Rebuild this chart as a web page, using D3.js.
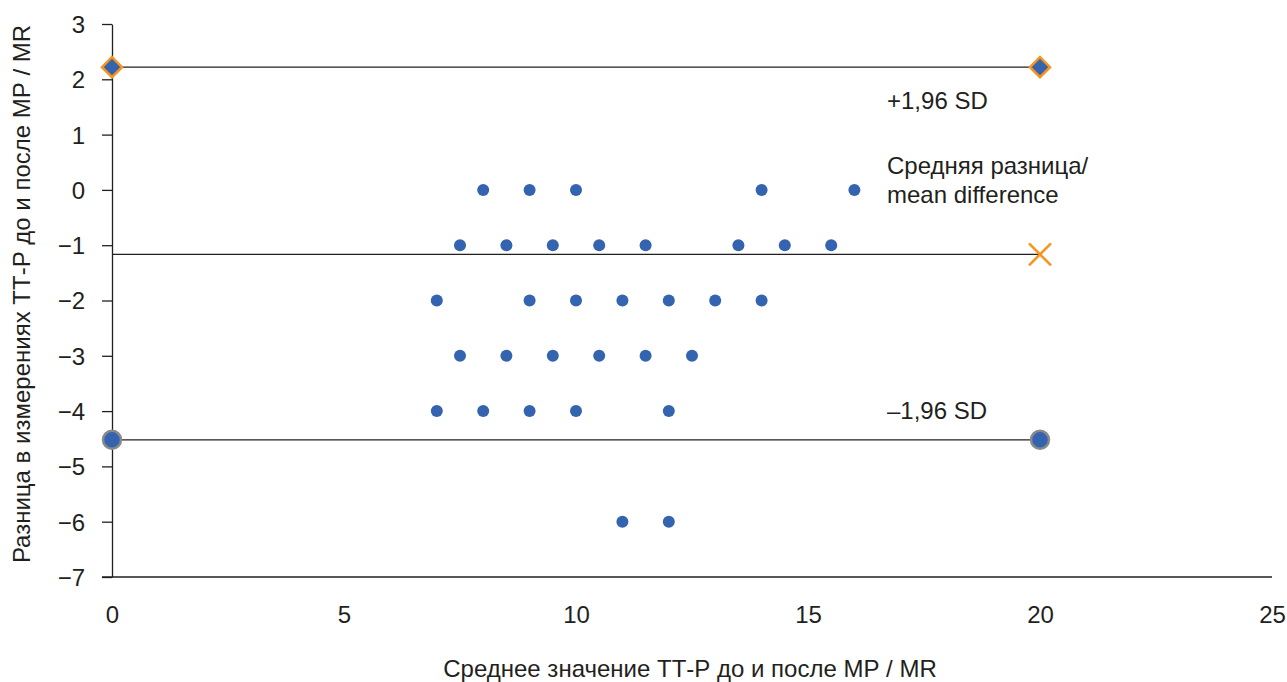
<!DOCTYPE html>
<html>
<head>
<meta charset="utf-8">
<script src="https://cdn.jsdelivr.net/npm/d3@7"></script>
<style>
  body { margin: 0; background: #fff; }
  text { font-family: "Liberation Sans", Arial, sans-serif; fill: #231f20; }
</style>
</head>
<body>
<script>
// data
var pointX = [8, 9, 10, 14, 16,
              7.5, 8.5, 9.5, 10.5, 11.5, 13.5, 14.5, 15.5,
              7, 9, 10, 11, 12, 13, 14,
              7.5, 8.5, 9.5, 10.5, 11.5, 12.5,
              7, 8, 9, 10, 12,
              11, 12];
var pointY = [0, 0, 0, 0, 0,
              -1, -1, -1, -1, -1, -1, -1, -1,
              -2, -2, -2, -2, -2, -2, -2,
              -3, -3, -3, -3, -3, -3,
              -4, -4, -4, -4, -4,
              -6, -6];
var upperSD = 2.22;
var meanDiff = -1.165;
var lowerSD = -4.52;
var lineEnds = [0, 20];
var xTicks = [0, 5, 10, 15, 20, 25];
var yTicks = [3, 2, 1, 0, -1, -2, -3, -4, -5, -6, -7];

var svgWidth = 1287, svgHeight = 682;
var plotLeft = 112, plotTop = 24, plotRight = 1272, plotBottom = 577;
var fs = 24;

var svg = d3.select("body").append("svg")
    .attr("width", svgWidth)
    .attr("height", svgHeight);

var x = d3.scaleLinear().domain([0, 25]).range([plotLeft, plotRight]);
var y = d3.scaleLinear().domain([-7, 3]).range([plotBottom, plotTop]);

var blue = "#3463b0";
var orange = "#f7941d";

// y axis
var yAxis = svg.append("g")
    .attr("transform", `translate(${plotLeft},0)`)
    .call(d3.axisLeft(y).tickValues(yTicks).tickSize(10).tickSizeOuter(0)
        .tickFormat(d => d < 0 ? "\u2212" + Math.abs(d) : d));
yAxis.select(".domain").attr("stroke", "#231f20").attr("stroke-width", 1.3);
yAxis.selectAll(".tick line").attr("stroke", "#231f20").attr("stroke-width", 1.3);
yAxis.selectAll(".tick text").attr("font-size", fs).attr("x", -27).attr("dy", "0.35em")
    .style("font-family", "Liberation Sans, Arial, sans-serif").attr("fill", "#231f20");

// x axis
var xAxis = svg.append("g")
    .attr("transform", `translate(0,${plotBottom})`)
    .call(d3.axisBottom(x).tickValues(xTicks).tickSize(0).tickSizeOuter(0));
xAxis.select(".domain").attr("d", `M${plotLeft - 10},0H${plotRight}`)
    .attr("stroke", "#231f20").attr("stroke-width", 1.3);
xAxis.selectAll(".tick text").attr("font-size", fs).attr("y", 46).attr("dy", 0)
    .style("font-family", "Liberation Sans, Arial, sans-serif").attr("fill", "#231f20");

// reference lines
[upperSD, meanDiff, lowerSD].forEach(function(v) {
    svg.append("line")
        .attr("x1", x(lineEnds[0])).attr("x2", x(lineEnds[1]))
        .attr("y1", y(v)).attr("y2", y(v))
        .attr("stroke", "#231f20").attr("stroke-width", 1.3);
});

// scatter points
svg.selectAll("circle.pt")
    .data(pointX)
    .enter()
    .append("circle")
    .attr("class", "pt")
    .attr("cx", d => x(d))
    .attr("cy", (d, i) => y(pointY[i]))
    .attr("r", 6)
    .attr("fill", blue);

// upper SD diamonds
svg.selectAll("path.dia")
    .data(lineEnds)
    .enter()
    .append("path")
    .attr("class", "dia")
    .attr("d", "M0,-10L10,0L0,10L-10,0Z")
    .attr("transform", d => `translate(${x(d)},${y(upperSD)})`)
    .attr("fill", blue)
    .attr("stroke", orange)
    .attr("stroke-width", 2.5);

// mean cross
svg.append("path")
    .attr("d", "M-11,-11L11,11M-11,11L11,-11")
    .attr("transform", `translate(${x(lineEnds[1])},${y(meanDiff)})`)
    .attr("stroke", orange)
    .attr("stroke-width", 2.5)
    .attr("fill", "none");

// lower SD circles
svg.selectAll("circle.low")
    .data(lineEnds)
    .enter()
    .append("circle")
    .attr("class", "low")
    .attr("cx", d => x(d))
    .attr("cy", y(lowerSD))
    .attr("r", 9)
    .attr("fill", blue)
    .attr("stroke", "#8a8a8a")
    .attr("stroke-width", 2.5);

// annotations
svg.append("text").attr("x", 887).attr("y", 109).attr("font-size", fs).text("+1,96 SD");
svg.append("text").attr("x", 887).attr("y", 174).attr("font-size", fs).text("Средняя разница/");
svg.append("text").attr("x", 887).attr("y", 203).attr("font-size", fs).text("mean difference");
svg.append("text").attr("x", 887).attr("y", 419).attr("font-size", fs).text("\u20131,96 SD");

// axis titles
svg.append("text")
    .attr("x", 690).attr("y", 677)
    .attr("text-anchor", "middle").attr("font-size", fs)
    .text("Среднее значение ТТ-Р до и после МР / MR");

svg.append("text")
    .attr("transform", "rotate(-90)")
    .attr("x", -294).attr("y", 30)
    .attr("text-anchor", "middle").attr("font-size", fs)
    .text("Разница в измерениях ТТ-Р до и после МР / MR");
</script>
</body>
</html>
